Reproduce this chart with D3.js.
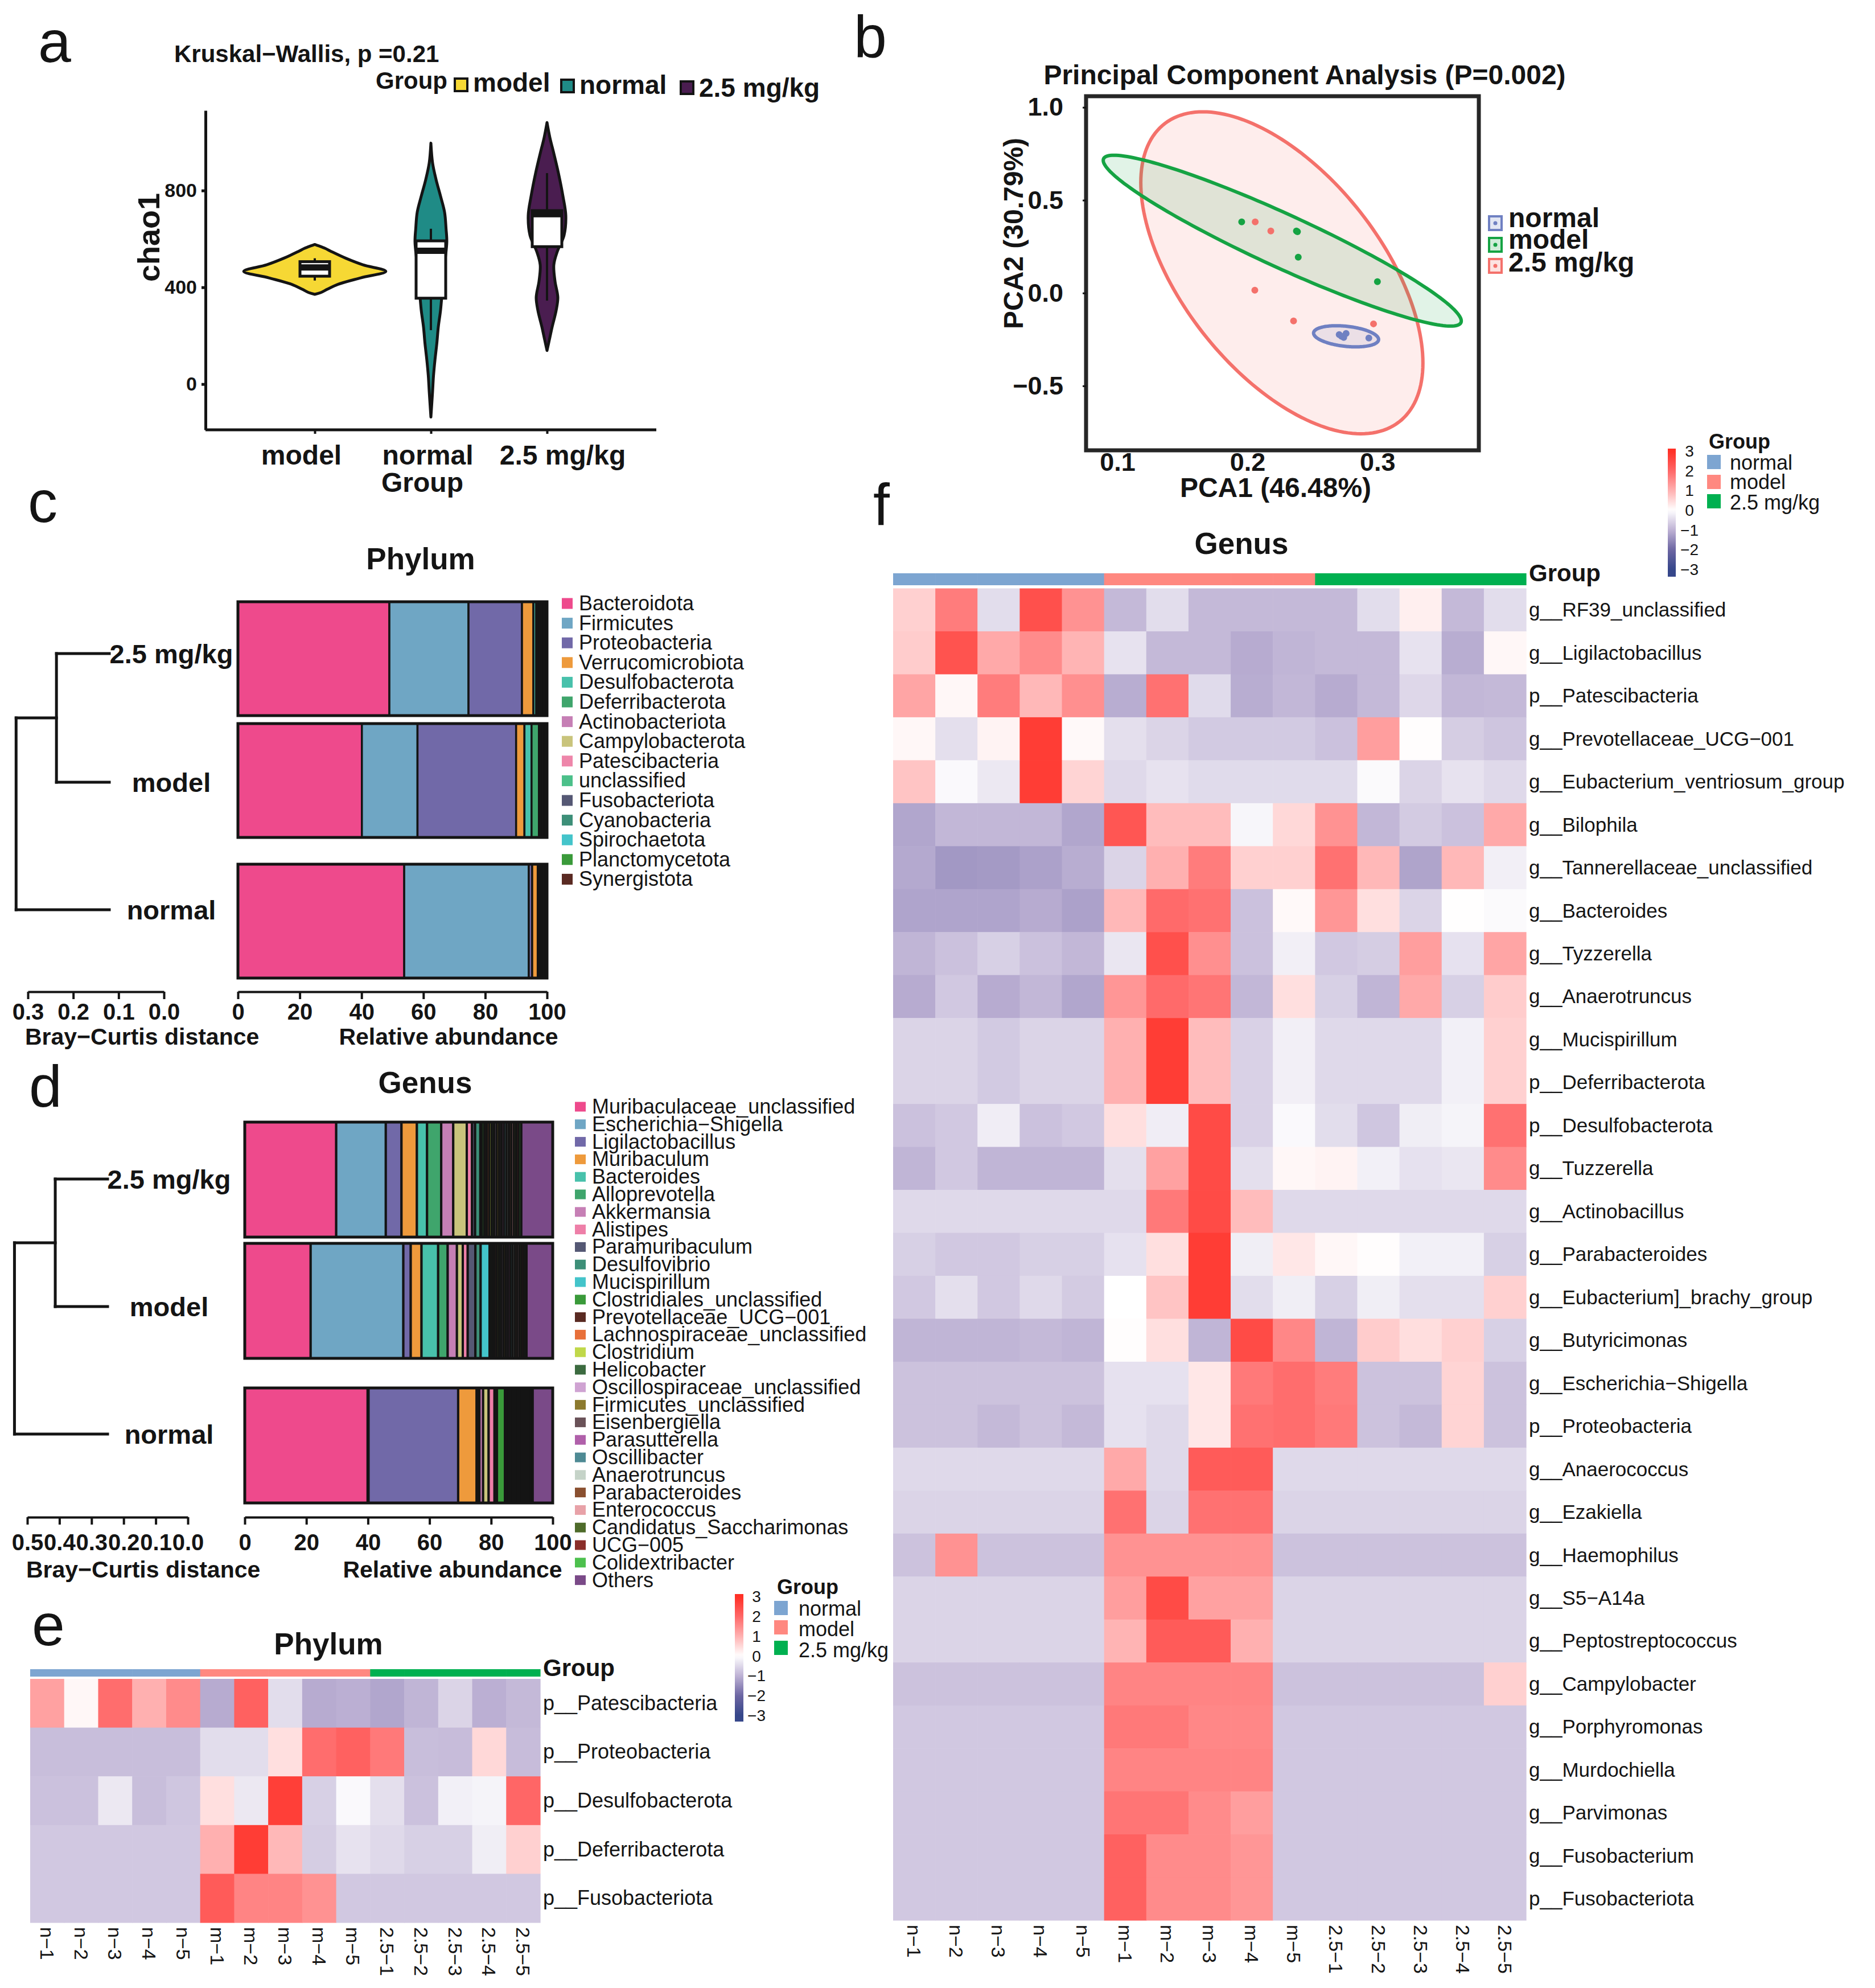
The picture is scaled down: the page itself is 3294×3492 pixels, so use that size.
<!DOCTYPE html>
<html><head><meta charset="utf-8">
<script src="https://cdn.jsdelivr.net/npm/d3@7"></script>
<style>body{margin:0;background:#fff}</style>
</head><body><svg id="fig" width="3294" height="3492" xmlns="http://www.w3.org/2000/svg"></svg>
<script>
// ================= DATA =================
// Panel a : chao1 violins
const groupsA = ["model", "normal", "2.5 mg/kg"];
const chaoTicks = [0, 400, 800];
// [chao1 value, relative density]
const violinModel = [[577,0],[567,0.09],[561,0.14],[547,0.23],[520,0.42],[493,0.65],[466,0.96],[439,0.62],[412,0.31],[392,0.17],[378,0.08],[371,0]];
const violinNormal = [[996,0],[913,0.023],[845,0.07],[777,0.13],[710,0.185],[642,0.205],[588,0.215],[506,0.19],[372,0.15],[304,0.13],[236,0.1],[168,0.08],[100,0.055],[34,0.035],[-34,0.022],[-136,0]];
const violin25 = [[1081,0],[1020,0.038],[953,0.092],[872,0.154],[777,0.215],[696,0.254],[615,0.23],[547,0.138],[493,0.092],[425,0.108],[358,0.146],[304,0.123],[236,0.069],[182,0.031],[139,0]];
// box stats: [lower whisker, q1, median, q3, upper whisker]
const boxModel = [428, 446, 482, 506, 520];
const boxNormal = [223, 355, 551, 592, 642];
const box25 = [345, 568, 702, 717, 872];

// Panel b : PCA
const pcaGroups = ["normal", "model", "2.5 mg/kg"];
const pcaNormal = [[0.2706,-0.224],[0.2741,-0.239],[0.2724,-0.233],[0.2934,-0.242],[0.2759,-0.218]];
const pcaModel = [[0.1956,0.383],[0.2377,0.334],[0.2391,0.193],[0.3000,0.061],[0.2385,0.330]];
const pca25 = [[0.2060,0.383],[0.2180,0.334],[0.2057,0.015],[0.2355,-0.150],[0.2970,-0.166]];
// confidence ellipses: centre, half extents, correlation
const ellNormal = {cx:0.2759, cy:-0.233, sx:0.025, sy:0.057, rho:-0.3};
const ellModel = {cx:0.2268, cy:0.282, sx:0.1377, sy:0.46, rho:-0.94};
const ell25 = {cx:0.2265, cy:0.109, sx:0.1085, sy:0.867, rho:-0.56};
const pcaXTicks = [0.1, 0.2, 0.3];
const pcaYTicks = [-0.5, 0.0, 0.5, 1.0];

// Panel c : phylum relative abundance
const barGroups = ["2.5 mg/kg", "model", "normal"];
const phylumNames = ["Bacteroidota","Firmicutes","Proteobacteria","Verrucomicrobiota","Desulfobacterota","Deferribacterota","Actinobacteriota","Campylobacterota","Patescibacteria","unclassified","Fusobacteriota","Cyanobacteria","Spirochaetota","Planctomycetota","Synergistota"];
const phylumColors = ["#EE4A8C","#6FA6C4","#7169A8","#EE9A3C","#48C1AB","#3FA56C","#C67FB5","#C9C47C","#EE86AA","#4CC08A","#555874","#3D8F78","#44C4CA","#3A9A3A","#5A2A22"];
const phylum25 = [49.0,25.6,17.3,3.7,0.9,0.5,0.5,0.4,0.4,0.4,0.3,0.3,0.3,0.2,0.2];
const phylumModel = [40.1,18.0,31.9,2.7,2.3,2.4,0.5,0.4,0.3,0.4,0.3,0.2,0.2,0.2,0.1];
const phylumNormal = [53.8,40.3,1.1,1.8,0.4,0.3,0.5,0.4,0.3,0.3,0.2,0.2,0.1,0.1,0.2];
const phylumTreeHeights = [0.237, 0.326]; // (2.5 mg/kg, model) then with normal
const phylumDistTicks = [0.3, 0.2, 0.1, 0.0];
const abundTicks = [0, 20, 40, 60, 80, 100];

// Panel d : genus relative abundance
const genusNames = ["Muribaculaceae_unclassified","Escherichia−Shigella","Ligilactobacillus","Muribaculum","Bacteroides","Alloprevotella","Akkermansia","Alistipes","Paramuribaculum","Desulfovibrio","Mucispirillum","Clostridiales_unclassified","Prevotellaceae_UCG−001","Lachnospiraceae_unclassified","Clostridium","Helicobacter","Oscillospiraceae_unclassified","Firmicutes_unclassified","Eisenbergiella","Parasutterella","Oscillibacter","Anaerotruncus","Parabacteroides","Enterococcus","Candidatus_Saccharimonas","UCG−005","Colidextribacter","Others"];
const genusColors = ["#EE4A8C","#6FA6C4","#7169A8","#EE9A3C","#48C1AB","#3FA56C","#C67FB5","#EE7FA8","#555874","#3D8F78","#44C4CA","#3A9A3A","#5A2A22","#E8703A","#C0D84A","#3C6B40","#CFA3D2","#8C7A2E","#6A5258","#B060AA","#4E8A94","#C5D3C8","#8A5030","#E8A2A8","#4E6B2A","#8A2E2A","#4DC04E","#7A4A88"];
// one extra bar segment (khaki) that has no legend entry; stacked after Akkermansia
const genusExtraName = "unlisted";
const genusExtraColor = "#C9C47C";
// values in stacking order: first 7 legend genera, extra segment, remaining 21 legend entries
const genus25 = [29.7,16.1,5.1,5.0,3.3,4.6,3.9, 4.4, 1.7,1.0,1.7,0.5,0.8,0.8,0.8,0.8,0.8,0.8,0.8,0.8,0.8,0.8,0.8,0.8,0.8,0.8,0.8,0.8,10.2];
const genusModel = [21.4,30.1,2.4,3.5,5.4,3.1,3.0, 1.9, 1.6,2.5,1.7,2.9,0.75,0.75,0.75,0.75,0.75,0.75,0.75,0.75,0.75,0.75,0.75,0.75,0.75,0.75,0.75,0.75,8.5];
const genusNormal = [39.9,0.3,29.1,6.0,0.4,0.5,1.2, 1.8, 1.9,0.3,0.3,0.2,2.6,0.6,0.6,0.6,0.6,0.6,0.6,0.6,0.6,0.6,0.6,0.6,0.6,0.6,0.6,0.6,6.5];
const genusTreeHeights = [0.413, 0.54];
const genusDistTicks = [0.5, 0.4, 0.3, 0.2, 0.1, 0.0];

// Panels e/f : z-score heatmaps
const sampleNames = ["n−1","n−2","n−3","n−4","n−5","m−1","m−2","m−3","m−4","m−5","2.5−1","2.5−2","2.5−3","2.5−4","2.5−5"];
const sampleGroups = ["normal","normal","normal","normal","normal","model","model","model","model","model","2.5 mg/kg","2.5 mg/kg","2.5 mg/kg","2.5 mg/kg","2.5 mg/kg"];
const heatGroups = ["normal","model","2.5 mg/kg"];
const legendTicks = [3, 2, 1, 0, -1, -2, -3];
const phylumHeatRows = ["p__Patescibacteria","p__Proteobacteria","p__Desulfobacterota","p__Deferribacterota","p__Fusobacteriota"];
const phylumHeat = [
 [1.2,0.1,1.9,1.0,1.5,-1.1,2.1,-0.45,-1.1,-1.05,-1.17,-0.98,-0.57,-1.05,-0.92],
 [-0.86,-0.86,-0.86,-0.86,-0.86,-0.45,-0.45,0.4,1.9,2.1,1.75,-0.86,-0.88,0.5,-0.88],
 [-0.82,-0.82,-0.3,-0.86,-0.75,0.4,-0.3,2.7,-0.62,-0.08,-0.42,-0.82,-0.2,-0.15,2.0],
 [-0.72,-0.72,-0.72,-0.72,-0.72,1.0,2.75,0.9,-0.66,-0.38,-0.5,-0.62,-0.62,-0.23,0.6],
 [-0.72,-0.72,-0.72,-0.72,-0.72,2.2,1.6,1.6,1.4,-0.72,-0.72,-0.72,-0.72,-0.72,-0.72]
];
const genusHeatRows = ["g__RF39_unclassified","g__Ligilactobacillus","p__Patescibacteria","g__Prevotellaceae_UCG−001","g__Eubacterium_ventriosum_group","g__Bilophila","g__Tannerellaceae_unclassified","g__Bacteroides","g__Tyzzerella","g__Anaerotruncus","g__Mucispirillum","p__Deferribacterota","p__Desulfobacterota","g__Tuzzerella","g__Actinobacillus","g__Parabacteroides","g__Eubacterium]_brachy_group","g__Butyricimonas","g__Escherichia−Shigella","p__Proteobacteria","g__Anaerococcus","g__Ezakiella","g__Haemophilus","g__S5−A14a","g__Peptostreptococcus","g__Campylobacter","g__Porphyromonas","g__Murdochiella","g__Parvimonas","g__Fusobacterium","p__Fusobacteriota"];
const genusHeat = [
 [0.6,1.7,-0.45,2.4,1.4,-0.92,-0.45,-0.92,-0.92,-0.92,-0.92,-0.45,0.2,-0.92,-0.45],
 [0.65,2.35,1.1,1.5,0.95,-0.38,-0.92,-0.92,-1.1,-0.98,-0.92,-0.92,-0.38,-1.08,0.1],
 [1.15,0.1,1.7,0.9,1.45,-1.08,1.85,-0.48,-1.08,-0.95,-1.1,-0.92,-0.52,-0.95,-0.92],
 [0.1,-0.42,0.15,2.75,0.08,-0.42,-0.57,-0.7,-0.7,-0.7,-0.82,1.25,0.02,-0.66,-0.76],
 [0.75,-0.08,-0.3,2.75,0.55,-0.5,-0.38,-0.48,-0.48,-0.48,-0.48,-0.06,-0.57,-0.38,-0.5],
 [-1.17,-0.95,-0.95,-0.95,-1.17,2.3,0.85,0.85,-0.12,0.5,1.4,-0.95,-0.68,-0.82,1.1],
 [-1.13,-1.35,-1.33,-1.23,-1.08,-0.57,1.0,1.7,0.6,0.6,1.85,0.9,-1.2,0.9,-0.21],
 [-1.19,-1.19,-1.19,-1.1,-1.23,0.9,1.95,1.85,-0.82,0.08,1.35,0.4,-0.57,0.01,-0.06],
 [-0.98,-0.82,-0.62,-0.82,-0.95,-0.33,2.4,1.45,-0.82,-0.21,-0.72,-0.66,1.25,-0.39,1.15],
 [-1.1,-0.72,-1.1,-0.95,-1.17,1.35,1.95,1.8,-0.95,0.4,-0.62,-0.98,1.1,-0.62,0.65],
 [-0.57,-0.57,-0.7,-0.57,-0.57,1.0,2.75,0.85,-0.6,-0.21,-0.5,-0.5,-0.5,-0.2,0.6],
 [-0.57,-0.57,-0.7,-0.57,-0.57,1.0,2.75,0.85,-0.6,-0.21,-0.5,-0.5,-0.5,-0.2,0.6],
 [-0.82,-0.72,-0.24,-0.82,-0.72,0.4,-0.24,2.5,-0.6,-0.08,-0.45,-0.75,-0.23,-0.15,1.85],
 [-0.98,-0.72,-0.98,-0.98,-0.98,-0.42,1.2,2.5,-0.42,0.1,0.15,-0.2,-0.39,-0.33,1.5],
 [-0.5,-0.5,-0.5,-0.5,-0.5,-0.5,1.75,2.5,0.85,-0.5,-0.5,-0.5,-0.5,-0.5,-0.5],
 [-0.62,-0.72,-0.72,-0.62,-0.62,-0.39,0.4,2.75,-0.23,0.3,0.1,0.03,-0.2,-0.2,-0.62],
 [-0.72,-0.42,-0.72,-0.5,-0.68,0.0,0.75,2.75,-0.45,-0.23,-0.62,-0.23,-0.42,-0.42,0.6],
 [-0.98,-0.98,-0.98,-0.92,-0.98,0.02,0.4,-0.98,2.5,1.55,-0.98,0.65,0.42,0.6,-0.62],
 [-0.8,-0.8,-0.8,-0.8,-0.8,-0.39,-0.39,0.3,1.75,1.9,1.7,-0.8,-0.8,0.55,-0.8],
 [-0.8,-0.8,-0.92,-0.8,-0.92,-0.39,-0.5,0.3,1.85,1.9,1.75,-0.8,-0.92,0.55,-0.8],
 [-0.5,-0.5,-0.5,-0.5,-0.5,1.1,-0.5,2.2,2.2,-0.5,-0.5,-0.5,-0.5,-0.5,-0.5],
 [-0.57,-0.57,-0.57,-0.57,-0.57,1.85,-0.57,1.85,1.85,-0.57,-0.57,-0.57,-0.57,-0.57,-0.57],
 [-0.8,1.4,-0.8,-0.8,-0.8,1.4,1.4,1.4,1.4,-0.8,-0.8,-0.8,-0.8,-0.8,-0.8],
 [-0.57,-0.57,-0.57,-0.57,-0.57,1.25,2.5,1.2,1.2,-0.57,-0.57,-0.57,-0.57,-0.57,-0.57],
 [-0.57,-0.57,-0.57,-0.57,-0.57,0.95,2.2,2.2,1.0,-0.57,-0.57,-0.57,-0.57,-0.57,-0.57],
 [-0.8,-0.8,-0.8,-0.8,-0.8,1.6,1.6,1.6,1.6,-0.8,-0.8,-0.8,-0.8,-0.8,0.6],
 [-0.72,-0.72,-0.72,-0.72,-0.72,1.75,1.75,1.55,1.55,-0.72,-0.72,-0.72,-0.72,-0.72,-0.72],
 [-0.72,-0.72,-0.72,-0.72,-0.72,1.6,1.6,1.6,1.6,-0.72,-0.72,-0.72,-0.72,-0.72,-0.72],
 [-0.72,-0.72,-0.72,-0.72,-0.72,1.8,1.8,1.5,1.25,-0.72,-0.72,-0.72,-0.72,-0.72,-0.72],
 [-0.72,-0.72,-0.72,-0.72,-0.72,2.1,1.5,1.5,1.35,-0.72,-0.72,-0.72,-0.72,-0.72,-0.72],
 [-0.72,-0.72,-0.72,-0.72,-0.72,2.1,1.5,1.5,1.35,-0.72,-0.72,-0.72,-0.72,-0.72,-0.72]
];

// ================= DRAWING =================
const FONT = '"Liberation Sans", Arial, Helvetica, sans-serif';
const INK = "#141414";
const svg = d3.select("#fig");
svg.append("rect").attr("width", 3294).attr("height", 3492).attr("fill", "#ffffff");
const defs = svg.append("defs");

function T(g, x, y, s, size, o = {}) {
  const t = g.append("text").attr("x", x).attr("y", y).text(s)
    .attr("font-family", o.family || FONT).attr("font-size", size)
    .attr("font-weight", o.bold ? "bold" : "normal")
    .attr("text-anchor", o.anchor || "start").attr("fill", o.fill || INK);
  if (o.rotate) t.attr("transform", `rotate(${o.rotate},${x},${y})`);
  return t;
}
function styleAxis(g, size, bold, sw) {
  g.attr("font-family", FONT).attr("font-size", size).attr("font-weight", bold ? "bold" : "normal");
  g.selectAll("path.domain").attr("stroke", INK).attr("stroke-width", sw);
  g.selectAll(".tick line").attr("stroke", INK).attr("stroke-width", sw);
  g.selectAll(".tick text").attr("fill", INK);
}

// panel letters
[["a",67,109],["b",1500,100],["c",49,917],["d",51,1944],["e",56,2890],["f",1534,922]].forEach(l => T(svg, l[1], l[2], l[0], 104));

// ---------- Panel a ----------
{
  const g = svg.append("g");
  const yA = d3.scaleLinear().domain([-189, 1131]).range([755, 194]);
  const xA = d3.scalePoint().domain(groupsA).range([553, 961]);
  const wA = d3.scaleLinear().domain([0, 1]).range([0, 130]);
  const col = d3.scaleOrdinal().domain(groupsA).range(["#F6D834", "#1F8B86", "#4A1D50"]);
  const vio = {"model": violinModel, "normal": violinNormal, "2.5 mg/kg": violin25};
  const box = {"model": boxModel, "normal": boxNormal, "2.5 mg/kg": box25};
  groupsA.forEach(gr => {
    const cx = xA(gr);
    const area = d3.area().curve(d3.curveCatmullRom.alpha(0.5))
      .y(d => yA(d[0])).x0(d => cx - wA(d[1])).x1(d => cx + wA(d[1]));
    g.append("path").datum(vio[gr]).attr("d", area).attr("fill", col(gr))
      .attr("stroke", INK).attr("stroke-width", 5).attr("stroke-linejoin", "round");
    const b = box[gr], bw = 52;
    g.append("line").attr("x1", cx).attr("x2", cx).attr("y1", yA(b[0])).attr("y2", yA(b[1])).attr("stroke", INK).attr("stroke-width", 4);
    g.append("line").attr("x1", cx).attr("x2", cx).attr("y1", yA(b[3])).attr("y2", yA(b[4])).attr("stroke", INK).attr("stroke-width", 4);
    g.append("rect").attr("x", cx - bw / 2).attr("width", bw).attr("y", yA(b[3])).attr("height", yA(b[1]) - yA(b[3]))
      .attr("fill", "#fff").attr("stroke", INK).attr("stroke-width", 5);
    g.append("line").attr("x1", cx - bw / 2).attr("x2", cx + bw / 2).attr("y1", yA(b[2])).attr("y2", yA(b[2])).attr("stroke", INK).attr("stroke-width", 11);
  });
  const ya = g.append("g").attr("transform", "translate(361,0)")
    .call(d3.axisLeft(yA).tickValues(chaoTicks).tickSize(7).tickPadding(8).tickSizeOuter(0));
  styleAxis(ya, 34, true, 5);
  g.append("line").attr("x1", 361).attr("x2", 1153).attr("y1", 755).attr("y2", 755).attr("stroke", INK).attr("stroke-width", 5);
  const xa = g.append("g").attr("transform", "translate(0,755)")
    .call(d3.axisBottom(xA).tickSize(7).tickPadding(20));
  xa.select("path.domain").remove();
  styleAxis(xa, 48, true, 4);
  const labelShift = [-24, -6, 27];
  xa.selectAll(".tick text").attr("dx", (d, i) => labelShift[i]);
  T(g, 742, 864, "Group", 48, {bold: true, anchor: "middle"});
  T(g, 280, 417, "chao1", 54, {bold: true, anchor: "middle", rotate: -90});
  T(g, 306, 109, "Kruskal−Wallis, p =0.21", 42, {bold: true});
  T(g, 660, 156, "Group", 42, {bold: true});
  const keyX = [799, 986, 1196], keyY = [138, 140, 143], textBase = [161, 165, 170];
  groupsA.forEach((gr, i) => {
    g.append("rect").attr("x", keyX[i]).attr("y", keyY[i]).attr("width", 22).attr("height", 22)
      .attr("fill", col(gr)).attr("stroke", INK).attr("stroke-width", 4);
    T(g, keyX[i] + 32, textBase[i], gr, 46, {bold: true});
  });
}

// ---------- Panel b ----------
{
  const g = svg.append("g");
  const xB = d3.scaleLinear().domain([0.0759, 0.378]).range([1908, 2598]);
  const yB = d3.scaleLinear().domain([-0.847, 1.06]).range([791, 169]);
  const col = d3.scaleOrdinal().domain(pcaGroups).range(["#6F80C2", "#15A343", "#F4716B"]);
  const ell = {"normal": ellNormal, "model": ellModel, "2.5 mg/kg": ell25};
  const pts = {"normal": pcaNormal, "model": pcaModel, "2.5 mg/kg": pca25};
  function ellipsePts(e) {
    return d3.range(0, 361, 2).map(a => {
      const t = a * Math.PI / 180;
      return [e.cx + e.sx * Math.cos(t), e.cy + e.sy * (e.rho * Math.cos(t) + Math.sqrt(1 - e.rho * e.rho) * Math.sin(t))];
    });
  }
  const line = d3.line().x(d => xB(d[0])).y(d => yB(d[1])).curve(d3.curveLinearClosed);
  ["2.5 mg/kg", "model", "normal"].forEach(gr => {
    g.append("path").datum(ellipsePts(ell[gr])).attr("d", line)
      .attr("fill", col(gr)).attr("fill-opacity", 0.13).attr("stroke", col(gr)).attr("stroke-width", 6);
  });
  ["2.5 mg/kg", "model", "normal"].forEach(gr => {
    g.selectAll(null).data(pts[gr]).join("circle").attr("cx", d => xB(d[0])).attr("cy", d => yB(d[1]))
      .attr("r", 6).attr("fill", col(gr));
  });
  g.append("rect").attr("x", 1908).attr("y", 169).attr("width", 690).attr("height", 622)
    .attr("fill", "none").attr("stroke", "#262626").attr("stroke-width", 7);
  const fmt = d3.format(".1f");
  const yb = g.append("g").attr("transform", "translate(1908,0)")
    .call(d3.axisLeft(yB).tickValues(pcaYTicks).tickFormat(fmt).tickSize(6).tickPadding(34).tickSizeOuter(0));
  yb.select("path.domain").remove();
  styleAxis(yb, 45, true, 3);
  const xb = g.append("g").attr("transform", "translate(0,791)")
    .call(d3.axisBottom(xB).tickValues(pcaXTicks).tickFormat(fmt).tickSize(0).tickPadding(4).tickSizeOuter(0));
  xb.select("path.domain").remove();
  styleAxis(xb, 45, true, 3);
  T(g, 2292, 148, "Principal Component Analysis (P=0.002)", 48, {bold: true, anchor: "middle"});
  T(g, 2241, 873, "PCA1 (46.48%)", 48, {bold: true, anchor: "middle"});
  T(g, 1797, 410, "PCA2 (30.79%)", 48, {bold: true, anchor: "middle", rotate: -90});
  const kTop = [380, 418, 455], tBase = [399, 437, 477];
  pcaGroups.forEach((gr, i) => {
    g.append("rect").attr("x", 2616).attr("y", kTop[i]).attr("width", 22).attr("height", 24)
      .attr("fill", col(gr)).attr("fill-opacity", 0.2).attr("stroke", col(gr)).attr("stroke-width", 4);
    g.append("circle").attr("cx", 2627).attr("cy", kTop[i] + 12).attr("r", 3.5).attr("fill", col(gr));
    T(g, 2650, tBase[i], gr, 48, {bold: true});
  });
}

// ---------- stacked bar + dendrogram helper ----------
function barPanel(cfg) {
  const g = svg.append("g");
  const x = d3.scaleLinear().domain([0, 100]).range(cfg.xr);
  const yTop = d3.scaleOrdinal().domain(barGroups).range(cfg.barTops);
  const rows = barGroups.map(gr => {
    const o = {group: gr};
    cfg.keys.forEach((k, j) => o[k] = cfg.values[gr][j]);
    return o;
  });
  const series = d3.stack().keys(cfg.keys)(rows);
  series.forEach((s, k) => {
    g.selectAll(null).data(s).join("rect")
      .attr("x", d => x(d[0])).attr("width", d => Math.max(0, x(d[1]) - x(d[0])))
      .attr("y", d => yTop(d.data.group)).attr("height", cfg.barH)
      .attr("fill", cfg.colors[k]).attr("stroke", INK).attr("stroke-width", cfg.segStroke);
  });
  barGroups.forEach(gr => g.append("rect").attr("x", x(0)).attr("width", x(100) - x(0))
    .attr("y", yTop(gr)).attr("height", cfg.barH).attr("fill", "none").attr("stroke", INK).attr("stroke-width", 5));
  const ax = g.append("g").attr("transform", `translate(0,${cfg.axisY})`)
    .call(d3.axisBottom(x).tickValues(abundTicks).tickSize(13).tickPadding(cfg.pad).tickSizeOuter(0));
  styleAxis(ax, 40, true, 4);
  // dendrogram
  const dx = d3.scaleLinear().domain([cfg.distTicks[0], 0]).range(cfg.distR);
  const dax = g.append("g").attr("transform", `translate(0,${cfg.axisY})`)
    .call(d3.axisBottom(dx).tickValues(cfg.distTicks).tickFormat(d3.format(".1f")).tickSize(13).tickPadding(cfg.pad).tickSizeOuter(0));
  styleAxis(dax, 40, true, 4);
  const ly = d3.scaleOrdinal().domain(barGroups).range(cfg.leafY);
  const h1 = dx(cfg.tree[0]), h2 = dx(cfg.tree[1]);
  const ymid = (ly(barGroups[0]) + ly(barGroups[1])) / 2;
  const segs = [
    [h1, ly(barGroups[0]), cfg.leafEnd, ly(barGroups[0])],
    [h1, ly(barGroups[1]), cfg.leafEnd, ly(barGroups[1])],
    [h1, ly(barGroups[0]), h1, ly(barGroups[1])],
    [h2, ymid, h1, ymid],
    [h2, ly(barGroups[2]), cfg.leafEnd, ly(barGroups[2])],
    [h2, ymid, h2, ly(barGroups[2])]
  ];
  g.selectAll(null).data(segs).join("line").attr("x1", d => d[0]).attr("y1", d => d[1]).attr("x2", d => d[2]).attr("y2", d => d[3])
    .attr("stroke", INK).attr("stroke-width", 5).attr("stroke-linecap", "square");
  barGroups.forEach(gr => T(g, cfg.labelX, ly(gr) + 17, gr, 47, {bold: true, anchor: "middle"}));
  T(g, cfg.titleX, cfg.titleY, cfg.title, 53, {bold: true, anchor: "middle"});
  T(g, cfg.distTitleX, cfg.axisTitleY, "Bray−Curtis distance", 41, {bold: true});
  T(g, cfg.abTitleX, cfg.axisTitleY, "Relative abundance", 41, {bold: true, anchor: "middle"});
  // legend
  cfg.legendNames.forEach((n, i) => {
    const cy = cfg.legTop + i * cfg.legStep;
    g.append("rect").attr("x", cfg.legX).attr("y", cy - cfg.legSq / 2).attr("width", 19).attr("height", cfg.legSq).attr("fill", cfg.legendColors[i]);
    T(g, cfg.legX + 30, cy + 12, n, 36);
  });
}

// ---------- Panel c ----------
barPanel({
  xr: [418, 961], barTops: [1057, 1271, 1518], barH: 200, axisY: 1742, pad: 8, segStroke: 3.5,
  keys: phylumNames, colors: phylumColors,
  values: {"2.5 mg/kg": phylum25, "model": phylumModel, "normal": phylumNormal},
  distTicks: phylumDistTicks, distR: [49, 288], tree: phylumTreeHeights,
  leafY: [1148, 1374, 1598], leafEnd: 192, labelX: 301,
  title: "Phylum", titleX: 739, titleY: 1000,
  distTitleX: 44, abTitleX: 788, axisTitleY: 1835,
  legendNames: phylumNames, legendColors: phylumColors, legX: 987, legTop: 1060, legStep: 34.6, legSq: 19
});

// ---------- Panel d ----------
{
  const keys = genusNames.slice(0, 7).concat([genusExtraName], genusNames.slice(7));
  const colors = genusColors.slice(0, 7).concat([genusExtraColor], genusColors.slice(7));
  barPanel({
    xr: [430, 971], barTops: [1971, 2184, 2438], barH: 202, axisY: 2665, pad: 17, segStroke: 4,
    keys: keys, colors: colors,
    values: {"2.5 mg/kg": genus25, "model": genusModel, "normal": genusNormal},
    distTicks: genusDistTicks, distR: [48, 330], tree: genusTreeHeights,
    leafY: [2071, 2295, 2519], leafEnd: 189, labelX: 297,
    title: "Genus", titleX: 747, titleY: 1920,
    distTitleX: 46, abTitleX: 795, axisTitleY: 2771,
    legendNames: genusNames, legendColors: genusColors, legX: 1010, legTop: 1944, legStep: 30.8, legSq: 17
  });
}

// ---------- heatmaps ----------
const heatColor = d3.scaleLinear().domain([-3, -2, -1, 0, 1, 2, 3])
  .range(["#36478A", "#6D66A3", "#BFB3D5", "#FFFFFF", "#FFB0B0", "#FF6666", "#FF2F25"]).clamp(true);
const groupColor = d3.scaleOrdinal().domain(heatGroups).range(["#7DA5D1", "#FF8880", "#00B050"]);

function heatPanel(cfg) {
  const g = svg.append("g");
  const x = d3.scaleBand().domain(sampleNames).range(cfg.xr);
  const y = d3.scaleBand().domain(cfg.rows).range(cfg.yr);
  g.selectAll(null).data(sampleNames).join("rect")
    .attr("x", d => x(d)).attr("width", x.bandwidth() + 0.6)
    .attr("y", cfg.gbar[0]).attr("height", cfg.gbar[1] - cfg.gbar[0])
    .attr("fill", (d, j) => groupColor(sampleGroups[j]));
  cfg.matrix.forEach((row, i) => {
    g.selectAll(null).data(row).join("rect")
      .attr("x", (d, j) => x(sampleNames[j])).attr("width", x.bandwidth() + 0.6)
      .attr("y", y(cfg.rows[i])).attr("height", y.bandwidth() + 0.6)
      .attr("fill", d => heatColor(d));
  });
  cfg.rows.forEach(r => T(g, cfg.xr[1] + 5, y(r) + y.bandwidth() / 2 + 12, r, cfg.rowFont));
  sampleNames.forEach(s => T(g, x(s) + x.bandwidth() / 2 - 12, cfg.yr[1] + 8, s, 34, {rotate: 90}));
  T(g, cfg.xr[1] + 5, cfg.groupLabelY, "Group", 42, {bold: true});
  T(g, (cfg.xr[0] + cfg.xr[1]) / 2 + cfg.titleDx, cfg.titleY, cfg.title, 53, {bold: true, anchor: "middle"});
  // colour legend
  const ly = d3.scaleLinear().domain([3, -3]).range(cfg.legTickY);
  const id = "grad" + cfg.title + cfg.xr[0];
  const grad = defs.append("linearGradient").attr("id", id).attr("x1", 0).attr("y1", 0).attr("x2", 0).attr("y2", 1);
  d3.range(0, 41).forEach(k => {
    const yy = cfg.legBar[0] + k / 40 * (cfg.legBar[1] - cfg.legBar[0]);
    grad.append("stop").attr("offset", k / 40).attr("stop-color", heatColor(ly.invert(yy)));
  });
  g.append("rect").attr("x", cfg.legX).attr("y", cfg.legBar[0]).attr("width", cfg.legW)
    .attr("height", cfg.legBar[1] - cfg.legBar[0]).attr("fill", `url(#${id})`);
  legendTicks.forEach(v => T(g, cfg.legLabX, ly(v) + 10, v < 0 ? "−" + Math.abs(v) : String(v), 28, {anchor: "middle"}));
  // group legend
  T(g, cfg.gl.titleX, cfg.gl.titleY, "Group", 36, {bold: true});
  heatGroups.forEach((gr, i) => {
    g.append("rect").attr("x", cfg.gl.keyX).attr("y", cfg.gl.keyY[i]).attr("width", 24).attr("height", 25).attr("fill", groupColor(gr));
    T(g, cfg.gl.textX, cfg.gl.textY[i], gr, 36);
  });
}

heatPanel({
  xr: [53, 949], yr: [2949, 3377], gbar: [2932, 2945], rows: phylumHeatRows, matrix: phylumHeat,
  rowFont: 36, groupLabelY: 2944, title: "Phylum", titleY: 2906, titleDx: 76,
  legX: 1291, legW: 15, legBar: [2800, 3024], legTickY: [2804, 3013], legLabX: 1329,
  gl: {titleX: 1365, titleY: 2800, keyX: 1360, keyY: [2812, 2846, 2882], textX: 1403, textY: [2838, 2874, 2911]}
});
heatPanel({
  xr: [1569, 2681], yr: [1033.5, 3373], gbar: [1007, 1028], rows: genusHeatRows, matrix: genusHeat,
  rowFont: 35, groupLabelY: 1021, title: "Genus", titleY: 973, titleDx: 56,
  legX: 2930, legW: 14, legBar: [788, 1013], legTickY: [792, 1000], legLabX: 2968,
  gl: {titleX: 3002, titleY: 788, keyX: 2999, keyY: [799, 834, 868], textX: 3039, textY: [825, 859, 895]}
});
</script>
</body></html>
